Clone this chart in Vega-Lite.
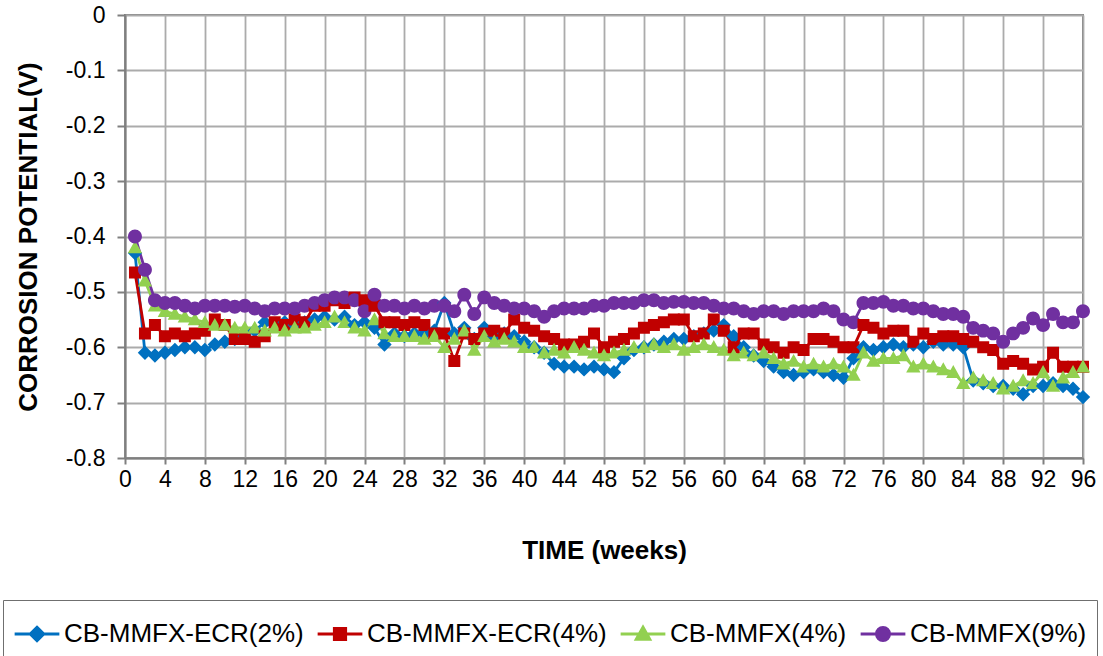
{
  "$schema": "https://vega.github.io/schema/vega-lite/v6.json",
  "autosize": {"type": "none"},
  "padding": {"left": 125, "top": 15, "right": 20, "bottom": 198},
  "width": 958,
  "height": 443,
  "background": "white",
  "config": {
    "view": {"stroke": "#7f7f7f", "strokeWidth": 2},
    "axis": {
      "labelFont": "Liberation Sans",
      "labelFontSize": 23,
      "labelColor": "#000000",
      "titleFont": "Liberation Sans",
      "titleFontWeight": "bold",
      "titleColor": "#000000",
      "gridColor": "#ababab",
      "gridWidth": 1.8,
      "domainColor": "#7f7f7f",
      "domainWidth": 2,
      "tickColor": "#7f7f7f",
      "tickWidth": 2,
      "labelOverlap": false,
      "labelFlush": false
    },
    "legend": {
      "title": null,
      "orient": "none",
      "legendX": -122,
      "legendY": 585,
      "direction": "horizontal",
      "strokeColor": "#6f6f6f",
      "padding": 10,
      "symbolSize": 2000,
      "labelFont": "Liberation Sans",
      "labelFontSize": 26,
      "labelColor": "#000000",
      "labelOffset": 3,
      "labelLimit": 400,
      "columnPadding": 7
    }
  },
  "data": {"values": [
    {"w":1,"CB-MMFX-ECR(2%)":-0.43,"CB-MMFX-ECR(4%)":-0.465,"CB-MMFX(4%)":-0.42,"CB-MMFX(9%)":-0.40},
    {"w":2,"CB-MMFX-ECR(2%)":-0.61,"CB-MMFX-ECR(4%)":-0.575,"CB-MMFX(4%)":-0.48,"CB-MMFX(9%)":-0.46},
    {"w":3,"CB-MMFX-ECR(2%)":-0.615,"CB-MMFX-ECR(4%)":-0.56,"CB-MMFX(4%)":-0.525,"CB-MMFX(9%)":-0.515},
    {"w":4,"CB-MMFX-ECR(2%)":-0.61,"CB-MMFX-ECR(4%)":-0.58,"CB-MMFX(4%)":-0.535,"CB-MMFX(9%)":-0.52},
    {"w":5,"CB-MMFX-ECR(2%)":-0.605,"CB-MMFX-ECR(4%)":-0.575,"CB-MMFX(4%)":-0.54,"CB-MMFX(9%)":-0.52},
    {"w":6,"CB-MMFX-ECR(2%)":-0.6,"CB-MMFX-ECR(4%)":-0.58,"CB-MMFX(4%)":-0.545,"CB-MMFX(9%)":-0.525},
    {"w":7,"CB-MMFX-ECR(2%)":-0.6,"CB-MMFX-ECR(4%)":-0.575,"CB-MMFX(4%)":-0.55,"CB-MMFX(9%)":-0.53},
    {"w":8,"CB-MMFX-ECR(2%)":-0.605,"CB-MMFX-ECR(4%)":-0.57,"CB-MMFX(4%)":-0.555,"CB-MMFX(9%)":-0.525},
    {"w":9,"CB-MMFX-ECR(2%)":-0.595,"CB-MMFX-ECR(4%)":-0.55,"CB-MMFX(4%)":-0.56,"CB-MMFX(9%)":-0.525},
    {"w":10,"CB-MMFX-ECR(2%)":-0.59,"CB-MMFX-ECR(4%)":-0.56,"CB-MMFX(4%)":-0.56,"CB-MMFX(9%)":-0.525},
    {"w":11,"CB-MMFX-ECR(2%)":-0.585,"CB-MMFX-ECR(4%)":-0.585,"CB-MMFX(4%)":-0.565,"CB-MMFX(9%)":-0.527},
    {"w":12,"CB-MMFX-ECR(2%)":-0.58,"CB-MMFX-ECR(4%)":-0.585,"CB-MMFX(4%)":-0.565,"CB-MMFX(9%)":-0.525},
    {"w":13,"CB-MMFX-ECR(2%)":-0.57,"CB-MMFX-ECR(4%)":-0.59,"CB-MMFX(4%)":-0.565,"CB-MMFX(9%)":-0.53},
    {"w":14,"CB-MMFX-ECR(2%)":-0.555,"CB-MMFX-ECR(4%)":-0.58,"CB-MMFX(4%)":-0.57,"CB-MMFX(9%)":-0.535},
    {"w":15,"CB-MMFX-ECR(2%)":-0.56,"CB-MMFX-ECR(4%)":-0.555,"CB-MMFX(4%)":-0.565,"CB-MMFX(9%)":-0.53},
    {"w":16,"CB-MMFX-ECR(2%)":-0.555,"CB-MMFX-ECR(4%)":-0.56,"CB-MMFX(4%)":-0.57,"CB-MMFX(9%)":-0.53},
    {"w":17,"CB-MMFX-ECR(2%)":-0.56,"CB-MMFX-ECR(4%)":-0.55,"CB-MMFX(4%)":-0.565,"CB-MMFX(9%)":-0.53},
    {"w":18,"CB-MMFX-ECR(2%)":-0.555,"CB-MMFX-ECR(4%)":-0.555,"CB-MMFX(4%)":-0.565,"CB-MMFX(9%)":-0.525},
    {"w":19,"CB-MMFX-ECR(2%)":-0.55,"CB-MMFX-ECR(4%)":-0.525,"CB-MMFX(4%)":-0.56,"CB-MMFX(9%)":-0.52},
    {"w":20,"CB-MMFX-ECR(2%)":-0.545,"CB-MMFX-ECR(4%)":-0.525,"CB-MMFX(4%)":-0.555,"CB-MMFX(9%)":-0.515},
    {"w":21,"CB-MMFX-ECR(2%)":-0.55,"CB-MMFX-ECR(4%)":-0.515,"CB-MMFX(4%)":-0.545,"CB-MMFX(9%)":-0.51},
    {"w":22,"CB-MMFX-ECR(2%)":-0.545,"CB-MMFX-ECR(4%)":-0.52,"CB-MMFX(4%)":-0.555,"CB-MMFX(9%)":-0.51},
    {"w":23,"CB-MMFX-ECR(2%)":-0.56,"CB-MMFX-ECR(4%)":-0.51,"CB-MMFX(4%)":-0.565,"CB-MMFX(9%)":-0.515},
    {"w":24,"CB-MMFX-ECR(2%)":-0.555,"CB-MMFX-ECR(4%)":-0.515,"CB-MMFX(4%)":-0.57,"CB-MMFX(9%)":-0.535},
    {"w":25,"CB-MMFX-ECR(2%)":-0.565,"CB-MMFX-ECR(4%)":-0.525,"CB-MMFX(4%)":-0.55,"CB-MMFX(9%)":-0.505},
    {"w":26,"CB-MMFX-ECR(2%)":-0.595,"CB-MMFX-ECR(4%)":-0.555,"CB-MMFX(4%)":-0.575,"CB-MMFX(9%)":-0.525},
    {"w":27,"CB-MMFX-ECR(2%)":-0.575,"CB-MMFX-ECR(4%)":-0.555,"CB-MMFX(4%)":-0.58,"CB-MMFX(9%)":-0.525},
    {"w":28,"CB-MMFX-ECR(2%)":-0.58,"CB-MMFX-ECR(4%)":-0.56,"CB-MMFX(4%)":-0.58,"CB-MMFX(9%)":-0.53},
    {"w":29,"CB-MMFX-ECR(2%)":-0.575,"CB-MMFX-ECR(4%)":-0.555,"CB-MMFX(4%)":-0.58,"CB-MMFX(9%)":-0.525},
    {"w":30,"CB-MMFX-ECR(2%)":-0.575,"CB-MMFX-ECR(4%)":-0.56,"CB-MMFX(4%)":-0.585,"CB-MMFX(9%)":-0.53},
    {"w":31,"CB-MMFX-ECR(2%)":-0.57,"CB-MMFX-ECR(4%)":-0.575,"CB-MMFX(4%)":-0.58,"CB-MMFX(9%)":-0.525},
    {"w":32,"CB-MMFX-ECR(2%)":-0.52,"CB-MMFX-ECR(4%)":-0.575,"CB-MMFX(4%)":-0.6,"CB-MMFX(9%)":-0.525},
    {"w":33,"CB-MMFX-ECR(2%)":-0.575,"CB-MMFX-ECR(4%)":-0.625,"CB-MMFX(4%)":-0.585,"CB-MMFX(9%)":-0.535},
    {"w":34,"CB-MMFX-ECR(2%)":-0.565,"CB-MMFX-ECR(4%)":-0.575,"CB-MMFX(4%)":-0.57,"CB-MMFX(9%)":-0.505},
    {"w":35,"CB-MMFX-ECR(2%)":-0.585,"CB-MMFX-ECR(4%)":-0.585,"CB-MMFX(4%)":-0.605,"CB-MMFX(9%)":-0.54},
    {"w":36,"CB-MMFX-ECR(2%)":-0.565,"CB-MMFX-ECR(4%)":-0.575,"CB-MMFX(4%)":-0.58,"CB-MMFX(9%)":-0.51},
    {"w":37,"CB-MMFX-ECR(2%)":-0.58,"CB-MMFX-ECR(4%)":-0.57,"CB-MMFX(4%)":-0.59,"CB-MMFX(9%)":-0.52},
    {"w":38,"CB-MMFX-ECR(2%)":-0.575,"CB-MMFX-ECR(4%)":-0.575,"CB-MMFX(4%)":-0.585,"CB-MMFX(9%)":-0.525},
    {"w":39,"CB-MMFX-ECR(2%)":-0.58,"CB-MMFX-ECR(4%)":-0.55,"CB-MMFX(4%)":-0.59,"CB-MMFX(9%)":-0.53},
    {"w":40,"CB-MMFX-ECR(2%)":-0.59,"CB-MMFX-ECR(4%)":-0.565,"CB-MMFX(4%)":-0.6,"CB-MMFX(9%)":-0.53},
    {"w":41,"CB-MMFX-ECR(2%)":-0.6,"CB-MMFX-ECR(4%)":-0.57,"CB-MMFX(4%)":-0.6,"CB-MMFX(9%)":-0.535},
    {"w":42,"CB-MMFX-ECR(2%)":-0.61,"CB-MMFX-ECR(4%)":-0.58,"CB-MMFX(4%)":-0.61,"CB-MMFX(9%)":-0.545},
    {"w":43,"CB-MMFX-ECR(2%)":-0.63,"CB-MMFX-ECR(4%)":-0.585,"CB-MMFX(4%)":-0.605,"CB-MMFX(9%)":-0.535},
    {"w":44,"CB-MMFX-ECR(2%)":-0.635,"CB-MMFX-ECR(4%)":-0.595,"CB-MMFX(4%)":-0.61,"CB-MMFX(9%)":-0.53},
    {"w":45,"CB-MMFX-ECR(2%)":-0.635,"CB-MMFX-ECR(4%)":-0.595,"CB-MMFX(4%)":-0.6,"CB-MMFX(9%)":-0.53},
    {"w":46,"CB-MMFX-ECR(2%)":-0.64,"CB-MMFX-ECR(4%)":-0.59,"CB-MMFX(4%)":-0.605,"CB-MMFX(9%)":-0.53},
    {"w":47,"CB-MMFX-ECR(2%)":-0.635,"CB-MMFX-ECR(4%)":-0.575,"CB-MMFX(4%)":-0.61,"CB-MMFX(9%)":-0.525},
    {"w":48,"CB-MMFX-ECR(2%)":-0.64,"CB-MMFX-ECR(4%)":-0.6,"CB-MMFX(4%)":-0.615,"CB-MMFX(9%)":-0.525},
    {"w":49,"CB-MMFX-ECR(2%)":-0.645,"CB-MMFX-ECR(4%)":-0.59,"CB-MMFX(4%)":-0.61,"CB-MMFX(9%)":-0.52},
    {"w":50,"CB-MMFX-ECR(2%)":-0.62,"CB-MMFX-ECR(4%)":-0.585,"CB-MMFX(4%)":-0.605,"CB-MMFX(9%)":-0.52},
    {"w":51,"CB-MMFX-ECR(2%)":-0.605,"CB-MMFX-ECR(4%)":-0.575,"CB-MMFX(4%)":-0.6,"CB-MMFX(9%)":-0.52},
    {"w":52,"CB-MMFX-ECR(2%)":-0.6,"CB-MMFX-ECR(4%)":-0.565,"CB-MMFX(4%)":-0.6,"CB-MMFX(9%)":-0.515},
    {"w":53,"CB-MMFX-ECR(2%)":-0.595,"CB-MMFX-ECR(4%)":-0.56,"CB-MMFX(4%)":-0.595,"CB-MMFX(9%)":-0.515},
    {"w":54,"CB-MMFX-ECR(2%)":-0.59,"CB-MMFX-ECR(4%)":-0.555,"CB-MMFX(4%)":-0.6,"CB-MMFX(9%)":-0.52},
    {"w":55,"CB-MMFX-ECR(2%)":-0.585,"CB-MMFX-ECR(4%)":-0.55,"CB-MMFX(4%)":-0.595,"CB-MMFX(9%)":-0.518},
    {"w":56,"CB-MMFX-ECR(2%)":-0.585,"CB-MMFX-ECR(4%)":-0.55,"CB-MMFX(4%)":-0.605,"CB-MMFX(9%)":-0.518},
    {"w":57,"CB-MMFX-ECR(2%)":-0.58,"CB-MMFX-ECR(4%)":-0.58,"CB-MMFX(4%)":-0.6,"CB-MMFX(9%)":-0.52},
    {"w":58,"CB-MMFX-ECR(2%)":-0.575,"CB-MMFX-ECR(4%)":-0.575,"CB-MMFX(4%)":-0.595,"CB-MMFX(9%)":-0.52},
    {"w":59,"CB-MMFX-ECR(2%)":-0.57,"CB-MMFX-ECR(4%)":-0.55,"CB-MMFX(4%)":-0.6,"CB-MMFX(9%)":-0.525},
    {"w":60,"CB-MMFX-ECR(2%)":-0.56,"CB-MMFX-ECR(4%)":-0.57,"CB-MMFX(4%)":-0.605,"CB-MMFX(9%)":-0.53},
    {"w":61,"CB-MMFX-ECR(2%)":-0.58,"CB-MMFX-ECR(4%)":-0.6,"CB-MMFX(4%)":-0.615,"CB-MMFX(9%)":-0.53},
    {"w":62,"CB-MMFX-ECR(2%)":-0.6,"CB-MMFX-ECR(4%)":-0.575,"CB-MMFX(4%)":-0.61,"CB-MMFX(9%)":-0.535},
    {"w":63,"CB-MMFX-ECR(2%)":-0.615,"CB-MMFX-ECR(4%)":-0.575,"CB-MMFX(4%)":-0.615,"CB-MMFX(9%)":-0.54},
    {"w":64,"CB-MMFX-ECR(2%)":-0.625,"CB-MMFX-ECR(4%)":-0.595,"CB-MMFX(4%)":-0.61,"CB-MMFX(9%)":-0.535},
    {"w":65,"CB-MMFX-ECR(2%)":-0.635,"CB-MMFX-ECR(4%)":-0.6,"CB-MMFX(4%)":-0.62,"CB-MMFX(9%)":-0.535},
    {"w":66,"CB-MMFX-ECR(2%)":-0.645,"CB-MMFX-ECR(4%)":-0.61,"CB-MMFX(4%)":-0.63,"CB-MMFX(9%)":-0.54},
    {"w":67,"CB-MMFX-ECR(2%)":-0.65,"CB-MMFX-ECR(4%)":-0.6,"CB-MMFX(4%)":-0.625,"CB-MMFX(9%)":-0.535},
    {"w":68,"CB-MMFX-ECR(2%)":-0.645,"CB-MMFX-ECR(4%)":-0.605,"CB-MMFX(4%)":-0.635,"CB-MMFX(9%)":-0.535},
    {"w":69,"CB-MMFX-ECR(2%)":-0.64,"CB-MMFX-ECR(4%)":-0.585,"CB-MMFX(4%)":-0.63,"CB-MMFX(9%)":-0.535},
    {"w":70,"CB-MMFX-ECR(2%)":-0.645,"CB-MMFX-ECR(4%)":-0.585,"CB-MMFX(4%)":-0.635,"CB-MMFX(9%)":-0.53},
    {"w":71,"CB-MMFX-ECR(2%)":-0.65,"CB-MMFX-ECR(4%)":-0.59,"CB-MMFX(4%)":-0.63,"CB-MMFX(9%)":-0.535},
    {"w":72,"CB-MMFX-ECR(2%)":-0.655,"CB-MMFX-ECR(4%)":-0.6,"CB-MMFX(4%)":-0.635,"CB-MMFX(9%)":-0.55},
    {"w":73,"CB-MMFX-ECR(2%)":-0.62,"CB-MMFX-ECR(4%)":-0.6,"CB-MMFX(4%)":-0.65,"CB-MMFX(9%)":-0.555},
    {"w":74,"CB-MMFX-ECR(2%)":-0.6,"CB-MMFX-ECR(4%)":-0.56,"CB-MMFX(4%)":-0.61,"CB-MMFX(9%)":-0.52},
    {"w":75,"CB-MMFX-ECR(2%)":-0.605,"CB-MMFX-ECR(4%)":-0.565,"CB-MMFX(4%)":-0.625,"CB-MMFX(9%)":-0.52},
    {"w":76,"CB-MMFX-ECR(2%)":-0.6,"CB-MMFX-ECR(4%)":-0.575,"CB-MMFX(4%)":-0.62,"CB-MMFX(9%)":-0.518},
    {"w":77,"CB-MMFX-ECR(2%)":-0.595,"CB-MMFX-ECR(4%)":-0.57,"CB-MMFX(4%)":-0.62,"CB-MMFX(9%)":-0.525},
    {"w":78,"CB-MMFX-ECR(2%)":-0.6,"CB-MMFX-ECR(4%)":-0.57,"CB-MMFX(4%)":-0.615,"CB-MMFX(9%)":-0.525},
    {"w":79,"CB-MMFX-ECR(2%)":-0.595,"CB-MMFX-ECR(4%)":-0.59,"CB-MMFX(4%)":-0.635,"CB-MMFX(9%)":-0.53},
    {"w":80,"CB-MMFX-ECR(2%)":-0.6,"CB-MMFX-ECR(4%)":-0.575,"CB-MMFX(4%)":-0.63,"CB-MMFX(9%)":-0.53},
    {"w":81,"CB-MMFX-ECR(2%)":-0.59,"CB-MMFX-ECR(4%)":-0.585,"CB-MMFX(4%)":-0.635,"CB-MMFX(9%)":-0.535},
    {"w":82,"CB-MMFX-ECR(2%)":-0.595,"CB-MMFX-ECR(4%)":-0.58,"CB-MMFX(4%)":-0.64,"CB-MMFX(9%)":-0.54},
    {"w":83,"CB-MMFX-ECR(2%)":-0.595,"CB-MMFX-ECR(4%)":-0.58,"CB-MMFX(4%)":-0.645,"CB-MMFX(9%)":-0.54},
    {"w":84,"CB-MMFX-ECR(2%)":-0.6,"CB-MMFX-ECR(4%)":-0.585,"CB-MMFX(4%)":-0.665,"CB-MMFX(9%)":-0.545},
    {"w":85,"CB-MMFX-ECR(2%)":-0.66,"CB-MMFX-ECR(4%)":-0.59,"CB-MMFX(4%)":-0.655,"CB-MMFX(9%)":-0.565},
    {"w":86,"CB-MMFX-ECR(2%)":-0.665,"CB-MMFX-ECR(4%)":-0.6,"CB-MMFX(4%)":-0.66,"CB-MMFX(9%)":-0.57},
    {"w":87,"CB-MMFX-ECR(2%)":-0.67,"CB-MMFX-ECR(4%)":-0.605,"CB-MMFX(4%)":-0.665,"CB-MMFX(9%)":-0.575},
    {"w":88,"CB-MMFX-ECR(2%)":-0.67,"CB-MMFX-ECR(4%)":-0.63,"CB-MMFX(4%)":-0.675,"CB-MMFX(9%)":-0.59},
    {"w":89,"CB-MMFX-ECR(2%)":-0.675,"CB-MMFX-ECR(4%)":-0.625,"CB-MMFX(4%)":-0.67,"CB-MMFX(9%)":-0.575},
    {"w":90,"CB-MMFX-ECR(2%)":-0.685,"CB-MMFX-ECR(4%)":-0.63,"CB-MMFX(4%)":-0.66,"CB-MMFX(9%)":-0.565},
    {"w":91,"CB-MMFX-ECR(2%)":-0.67,"CB-MMFX-ECR(4%)":-0.64,"CB-MMFX(4%)":-0.665,"CB-MMFX(9%)":-0.548},
    {"w":92,"CB-MMFX-ECR(2%)":-0.67,"CB-MMFX-ECR(4%)":-0.635,"CB-MMFX(4%)":-0.645,"CB-MMFX(9%)":-0.56},
    {"w":93,"CB-MMFX-ECR(2%)":-0.665,"CB-MMFX-ECR(4%)":-0.61,"CB-MMFX(4%)":-0.67,"CB-MMFX(9%)":-0.54},
    {"w":94,"CB-MMFX-ECR(2%)":-0.67,"CB-MMFX-ECR(4%)":-0.635,"CB-MMFX(4%)":-0.655,"CB-MMFX(9%)":-0.555},
    {"w":95,"CB-MMFX-ECR(2%)":-0.675,"CB-MMFX-ECR(4%)":-0.635,"CB-MMFX(4%)":-0.645,"CB-MMFX(9%)":-0.555},
    {"w":96,"CB-MMFX-ECR(2%)":-0.69,"CB-MMFX-ECR(4%)":-0.635,"CB-MMFX(4%)":-0.635,"CB-MMFX(9%)":-0.535}
  ]},
  "transform": [
    {"fold": ["CB-MMFX-ECR(2%)", "CB-MMFX-ECR(4%)", "CB-MMFX(4%)", "CB-MMFX(9%)"], "as": ["series", "v"]}
  ],
  "encoding": {
    "x": {
      "field": "w", "type": "quantitative",
      "scale": {"domain": [0, 96], "nice": false},
      "axis": {
        "values": [0,4,8,12,16,20,24,28,32,36,40,44,48,52,56,60,64,68,72,76,80,84,88,92,96],
        "title": "TIME (weeks)", "titleFontSize": 26, "titlePadding": 46, "tickSize": 6, "labelPadding": 4
      }
    },
    "y": {
      "field": "v", "type": "quantitative",
      "scale": {"domain": [-0.8, 0], "nice": false, "zero": false},
      "axis": {
        "values": [0,-0.1,-0.2,-0.3,-0.4,-0.5,-0.6,-0.7,-0.8],
        "labelExpr": "datum.value == 0 ? '0' : '-' + format(-datum.value, '.1f')",
        "title": "CORROSION POTENTIAL(V)", "titleFontSize": 26, "titlePadding": 24, "tickSize": 8, "labelPadding": 12
      }
    },
    "color": {
      "field": "series", "type": "nominal",
      "scale": {
        "domain": ["CB-MMFX-ECR(2%)", "CB-MMFX-ECR(4%)", "CB-MMFX(4%)", "CB-MMFX(9%)"],
        "range": ["#0070C0", "#C00000", "#92D050", "#7030A0"]
      },
      "legend": {
        "encode": {
          "symbols": {
            "update": {
              "stroke": {"value": {"expr": "scale('color', datum.value)"}},
              "strokeWidth": {"value": 3},
              "opacity": {"value": 1}
            }
          }
        }
      }
    }
  },
  "layer": [
    {
      "mark": {"type": "line", "strokeWidth": 2.8}
    },
    {
      "mark": {"type": "point", "filled": true, "opacity": 1, "size": 2300},
      "encoding": {
        "shape": {
          "field": "series", "type": "nominal",
          "scale": {
            "domain": ["CB-MMFX-ECR(2%)", "CB-MMFX-ECR(4%)", "CB-MMFX(4%)", "CB-MMFX(9%)"],
            "range": [
              "M-1,0H1M0,-0.3L0.3,0L0,0.3L-0.3,0Z",
              "M-1,0H1M-0.25,-0.25H0.25V0.25H-0.25Z",
              "M-1,0H1M0,-0.3L0.3,0.24H-0.3Z",
              "M-1,0H1M-0.29,0A0.29,0.29,0,1,0,0.29,0A0.29,0.29,0,1,0,-0.29,0Z"
            ]
          },
          "legend": {
            "encode": {
              "symbols": {
                "update": {
                  "stroke": {"value": {"expr": "scale('color', datum.value)"}},
                  "strokeWidth": {"value": 3},
                  "opacity": {"value": 1}
                }
              }
            }
          }
        }
      }
    }
  ]
}
